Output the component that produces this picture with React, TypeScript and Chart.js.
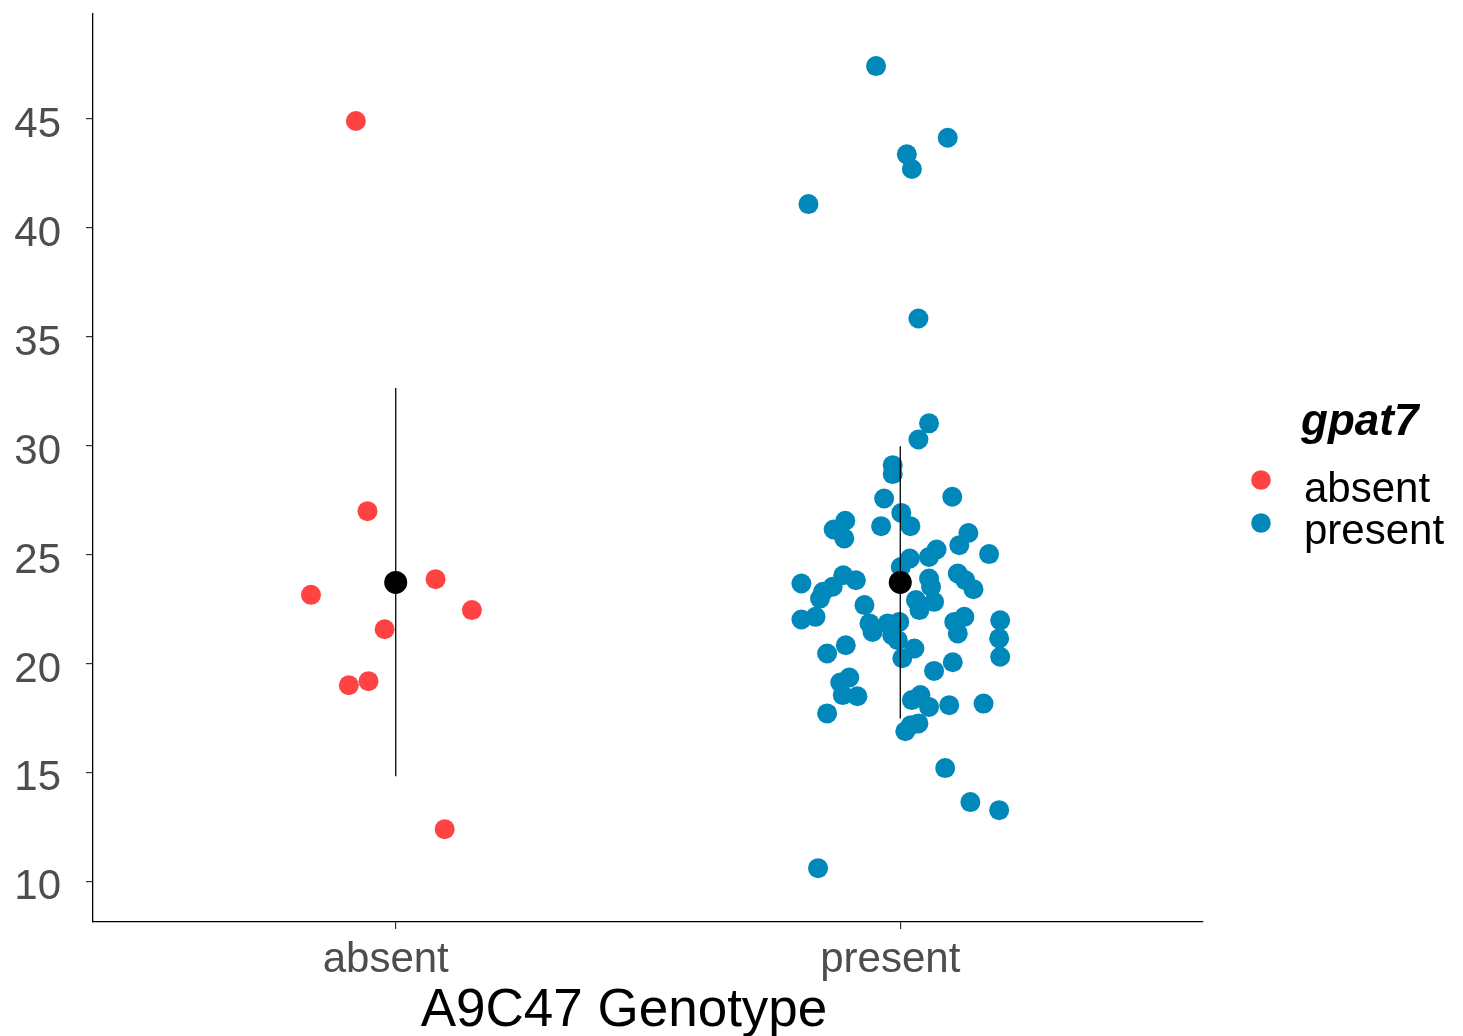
import React, { useEffect, useRef } from "react";
import { Chart, registerables } from "chart.js";

Chart.register(...registerables);

// ---- data ----
const categories = ["absent", "present"];
const yTickValues = [10, 15, 20, 25, 30, 35, 40, 45];

const absentJitter = [-0.079, -0.056, -0.168, 0.079, 0.151, -0.022, -0.093, -0.054, 0.097];
const absentValues = [44.91, 27.01, 23.17, 23.89, 22.47, 21.59, 19.02, 19.21, 12.42];

const presentJitter = [
  -0.048, 0.094, 0.013, 0.023, -0.182, 0.036, 0.057, 0.036, -0.015, -0.015,
  -0.032, 0.103, 0.002, -0.109, -0.132, -0.111, -0.038, 0.02, 0.135, 0.117,
  0.072, 0.176, 0.019, 0.057, 0.001, 0.057, -0.196, -0.113, -0.088, -0.134,
  -0.153, -0.159, 0.114, 0.129, 0.145, 0.061, 0.031, 0.067, 0.038, -0.071,
  -0.196, -0.168, -0.061, -0.025, -0.002, -0.055, -0.016, -0.005, 0.107, 0.127,
  0.114, 0.198, 0.196, -0.108, -0.145, 0.028, 0.004, 0.104, 0.198, 0.067,
  -0.101, -0.119, -0.114, -0.085, -0.145, 0.023, 0.04, 0.057, 0.097, 0.165,
  0.036, 0.021, 0.01, 0.089, 0.139, 0.196, -0.163,
];
const presentValues = [
  47.43, 44.14, 43.38, 42.71, 41.1, 35.85, 31.04, 30.3, 29.12, 28.71,
  27.59, 27.67, 26.93, 26.57, 26.17, 25.76, 26.32, 26.32, 26.01, 25.45,
  25.25, 25.04, 24.84, 24.91, 24.45, 23.92, 23.69, 24.07, 23.84, 23.54,
  23.31, 23.0, 24.15, 23.84, 23.43, 23.54, 22.93, 22.85, 22.47, 22.7,
  22.04, 22.16, 21.86, 21.86, 21.93, 21.47, 21.32, 21.09, 21.93, 22.16,
  21.4, 22.0, 21.17, 20.86, 20.48, 20.71, 20.26, 20.08, 20.33, 19.68,
  19.38, 19.15, 18.57, 18.52, 17.73, 18.34, 18.57, 18.03, 18.11, 18.18,
  17.27, 17.19, 16.91, 15.22, 13.66, 13.29, 10.63,
];

const meanValues = [23.74, 23.74];
const lowerValues = [14.85, 17.5];
const upperValues = [32.66, 29.99];

const legendTitle = "gpat7";
const xAxisTitle = "A9C47 Genotype";
const groupColors = ["#FF4343", "#0088BB"];

const FONT = "'Liberation Sans', Arial, Helvetica, sans-serif";

export default function App() {
  const ref = useRef<HTMLCanvasElement | null>(null);

  useEffect(() => {
    if (!ref.current) return;

    const toPoints = (jit: number[], vals: number[], idx: number) =>
      vals.map((v, i) => ({ x: idx + 1 + jit[i], y: v }));

    const errorBarSets = categories.map((_, i) => ({
      label: "err" + i,
      data: [
        { x: i + 1, y: lowerValues[i] },
        { x: i + 1, y: upperValues[i] },
      ],
      showLine: true,
      borderColor: "#000000",
      borderWidth: 1.3,
      pointRadius: 0,
      order: 1,
    }));

    const overlay = {
      id: "overlay",
      afterDraw(chart: any) {
        const ctx = chart.ctx;
        ctx.save();
        // x axis title
        ctx.fillStyle = "#000000";
        ctx.font = `53px ${FONT}`;
        ctx.textAlign = "center";
        ctx.textBaseline = "alphabetic";
        ctx.fillText(xAxisTitle, 624, 1026);
        // legend
        ctx.textAlign = "left";
        ctx.font = `italic bold 44px ${FONT}`;
        ctx.fillText(legendTitle, 1301, 435);
        ctx.font = `42px ${FONT}`;
        categories.forEach((c, i) => {
          const cy = 480 + i * 43;
          ctx.beginPath();
          ctx.fillStyle = groupColors[i];
          ctx.arc(1261, cy, 9.8, 0, Math.PI * 2);
          ctx.fill();
          ctx.fillStyle = "#000000";
          ctx.fillText(c, 1304, 502 + i * 41.5);
        });
        ctx.restore();
      },
    };

    const chart = new Chart(ref.current, {
      type: "scatter",
      data: {
        datasets: [
          {
            label: "mean",
            data: categories.map((_, i) => ({ x: i + 1, y: meanValues[i] })),
            backgroundColor: "#000000",
            borderWidth: 0,
            pointRadius: 11.5,
            order: 0,
          },
          ...errorBarSets,
          {
            label: categories[0],
            data: toPoints(absentJitter, absentValues, 0),
            backgroundColor: groupColors[0],
            borderWidth: 0,
            pointRadius: 10,
            order: 2,
          },
          {
            label: categories[1],
            data: toPoints(presentJitter, presentValues, 1),
            backgroundColor: groupColors[1],
            borderWidth: 0,
            pointRadius: 10,
            order: 2,
          },
        ],
      },
      options: {
        responsive: false,
        animation: false,
        events: [],
        layout: { padding: { top: 14, right: 260, bottom: 0, left: 0 } },
        plugins: {
          legend: { display: false },
          tooltip: { enabled: false },
          title: { display: false },
        },
        scales: {
          x: {
            type: "linear",
            min: 0.4,
            max: 2.6,
            afterBuildTicks: (s: any) => {
              s.ticks = categories.map((_, i) => ({ value: i + 1 }));
            },
            afterFit: (s: any) => {
              s.height = 114;
              s.paddingLeft = 0;
              s.paddingRight = 0;
            },
            ticks: {
              callback: (_v: any, i: number) => categories[i],
              font: { family: FONT, size: 42 },
              color: "#4D4D4D",
              padding: 6,
              labelOffset: -10,
              autoSkip: false,
              maxRotation: 0,
            },
            grid: {
              drawOnChartArea: false,
              drawTicks: true,
              tickLength: 7,
              color: "#333333",
              lineWidth: 1.2,
            },
            border: { display: true, color: "#000000", width: 1.3 },
          },
          y: {
            type: "linear",
            min: 8.16,
            max: 49.82,
            afterBuildTicks: (s: any) => {
              s.ticks = yTickValues.map((v) => ({ value: v }));
            },
            afterFit: (s: any) => {
              s.width = 93;
              s.paddingTop = 0;
              s.paddingBottom = 0;
            },
            ticks: {
              font: { family: FONT, size: 42 },
              color: "#4D4D4D",
              padding: 25,
              labelOffset: 6,
            },
            grid: {
              drawOnChartArea: false,
              drawTicks: true,
              tickLength: 7,
              color: "#333333",
              lineWidth: 1.2,
            },
            border: { display: true, color: "#000000", width: 1.3 },
          },
        },
      },
      plugins: [overlay],
    } as any);

    return () => chart.destroy();
  }, []);

  return (
    <div style={{ position: "fixed", left: 0, top: 0, width: 1463, height: 1036, background: "#fff" }}>
      <canvas ref={ref} width={1463} height={1036} style={{ display: "block" }} />
    </div>
  );
}
